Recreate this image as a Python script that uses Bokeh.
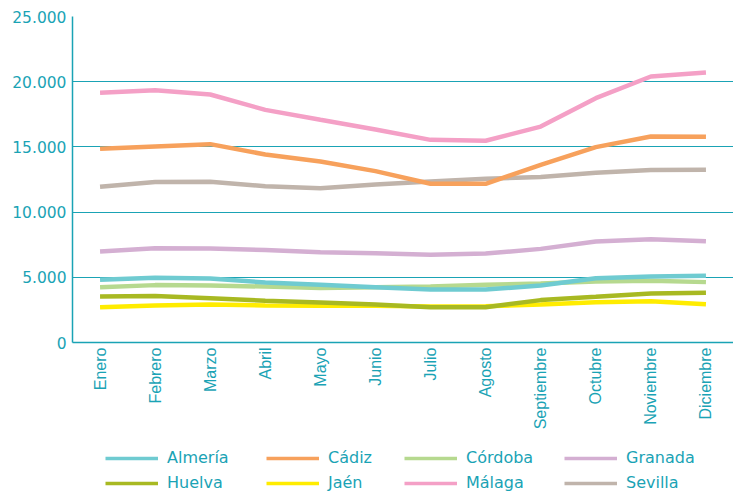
from bokeh.plotting import figure
from bokeh.models import Legend, LegendItem, FixedTicker
from bokeh.layouts import column
from bokeh.embed import file_html
from bokeh.resources import INLINE
import math

meses = ["Enero", "Febrero", "Marzo", "Abril", "Mayo", "Junio", "Julio", "Agosto",
         "Septiembre", "Octubre", "Noviembre", "Diciembre"]

almeria = [4810, 4960, 4900, 4600, 4420, 4240, 4060, 4060, 4370, 4930, 5060, 5110]
cadiz   = [14850, 15030, 15210, 14420, 13880, 13140, 12170, 12170, 13620, 14980, 15800, 15780]
cordoba = [4240, 4400, 4370, 4290, 4170, 4240, 4300, 4420, 4520, 4680, 4730, 4630]
granada = [6980, 7230, 7200, 7100, 6930, 6850, 6720, 6820, 7180, 7740, 7920, 7770]
huelva  = [3530, 3560, 3400, 3200, 3070, 2910, 2710, 2710, 3250, 3500, 3760, 3810]
jaen    = [2710, 2840, 2910, 2840, 2810, 2810, 2760, 2780, 2910, 3090, 3170, 2940]
malaga  = [19150, 19350, 19020, 17840, 17080, 16330, 15540, 15470, 16560, 18740, 20400, 20700]
sevilla = [11940, 12300, 12320, 11990, 11830, 12120, 12350, 12550, 12700, 13010, 13220, 13240]

series_names = ["Almería", "Cádiz", "Córdoba", "Granada", "Huelva", "Jaén", "Málaga", "Sevilla"]
series_vals = [almeria, cadiz, cordoba, granada, huelva, jaen, malaga, sevilla]
colors = ["#6fcbd1", "#f7a15c", "#b6d98f", "#d4afd2", "#a8b922", "#ffec00", "#f4a0c6", "#c0b4ab"]

y_ticks = [0, 5000, 10000, 15000, 20000, 25000]
y_tick_labels = ["0", "5.000", "10.000", "15.000", "20.000", "25.000"]

teal = "#1aa3b5"
W = 733
LEFT = 72

p = figure(x_range=meses, y_range=(0, 25000), width=W, height=445,
           output_backend="svg", toolbar_location=None,
           min_border_left=LEFT, min_border_top=16, min_border_right=0, min_border_bottom=103)
p.outline_line_color = None
p.background_fill_color = "white"

order = [5, 4, 2, 0, 3, 7, 1, 6]
for i in order:
    p.line(meses, series_vals[i], line_color=colors[i], line_width=4.5)

p.xgrid.grid_line_color = None
p.ygrid.grid_line_color = teal
p.ygrid.grid_line_width = 1
p.yaxis.ticker = FixedTicker(ticks=y_ticks)
p.yaxis.major_label_overrides = {t: l for t, l in zip(y_ticks, y_tick_labels)}

for ax in (p.xaxis[0], p.yaxis[0]):
    ax.axis_line_color = teal
    ax.axis_line_width = 1.5
    ax.major_tick_line_color = None
    ax.minor_tick_line_color = None
    ax.major_tick_out = 0
    ax.major_tick_in = 0
    ax.major_label_text_color = teal

p.yaxis.major_label_text_font = "DejaVu Sans"
p.yaxis.major_label_text_font_size = "15.5px"
p.yaxis.major_label_standoff = 6
p.xaxis.major_label_text_font = "Liberation Sans"
p.xaxis.major_label_text_font_size = "16px"
p.xaxis.major_label_orientation = math.pi / 2
p.xaxis.major_label_standoff = 5

# legend strip below the chart (series drawn out of view, only used for legend glyphs)
lg_fig = figure(width=W, height=47, x_range=p.x_range, y_range=(-2, -1),
                output_backend="svg", toolbar_location=None,
                min_border_left=LEFT, min_border_right=0, min_border_top=0, min_border_bottom=0)
lg_fig.axis.visible = False
lg_fig.grid.visible = False
lg_fig.outline_line_color = None
lg_rend = [lg_fig.line(meses, series_vals[i], line_color=colors[i], line_width=3.5) for i in range(8)]

col_x = [105, 266, 404, 564]
for c in range(4):
    items = [LegendItem(label=series_names[c], renderers=[lg_rend[c]]),
             LegendItem(label=series_names[c + 4], renderers=[lg_rend[c + 4]])]
    lg = Legend(items=items, location=(col_x[c] - LEFT, 0),
                label_text_font="DejaVu Sans", label_text_font_size="16px", label_text_color=teal,
                glyph_width=53, glyph_height=16, label_standoff=9, spacing=6,
                padding=0, margin=0, border_line_color=None, background_fill_alpha=0,
                label_height=16)
    lg_fig.add_layout(lg, "center")

layout = column(p, lg_fig, spacing=0)
open("out.html", "w").write(file_html(layout, INLINE))
